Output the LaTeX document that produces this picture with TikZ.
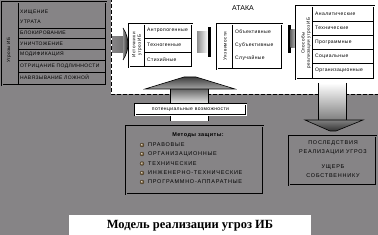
\documentclass[tikz,border=0pt]{standalone}
\usepackage{fontspec}
\setmainfont{Liberation Serif}
\newfontfamily\sfA[LetterSpace=8]{Liberation Sans}
\newfontfamily\sfB[LetterSpace=14]{Liberation Sans}
\newfontfamily\sfC{Liberation Sans}
\definecolor{bg}{RGB}{134,132,134}
\definecolor{bulletc}{RGB}{125,100,60}
\begin{document}
\begin{tikzpicture}[x=1pt,y=-1pt,
  box/.style={rectangle, draw=black, line width=0.6pt, double distance=0.9pt, inner sep=0pt, outer sep=0pt},
  wbox/.style={box, double=white, fill=white},
  gbox/.style={box, double=bg, fill=bg},
  rowline/.style={line width=0.6pt},
  capsL/.style={font=\fontsize{5}{6}\sfA, anchor=west, inner sep=0pt},
  lowL/.style={font=\fontsize{5}{6}\sfA, anchor=west, inner sep=0pt},
  rotL/.style={font=\fontsize{4.6}{5.4}\sfA, rotate=90, align=center, inner sep=0pt},
  capsM/.style={font=\fontsize{5.5}{6.5}\sfB, anchor=west, inner sep=0pt},
  capsC/.style={font=\fontsize{5.5}{6.5}\sfB, inner sep=0pt},
  edge/.style={draw=black, line width=0.6pt}
]
\useasboundingbox (0,0) rectangle (378,235);
\fill[bg] (0,0) rectangle (378,235);
% white dashed region
\fill[white] (111,-2) rectangle (380,94);
\draw[line width=0.8pt, dash pattern=on 4pt off 2pt] (111,-2) -- (111,94) -- (380,94);

% ---- left box: threats
\node[gbox, minimum width=104pt, minimum height=83pt] (threats) at (54,43.5) {};
\draw[rowline] (18,3) -- (18,84);
\foreach \yy in {28,38,49,60,72} \draw[rowline] (18,\yy) -- (105,\yy);
\node[rotL] (thrlab) at (9,50) {Угрозы ИБ};
\node[capsL] (t1) at (20,12) {ХИЩЕНИЕ};
\node[capsL] (t2) at (20,22) {УТРАТА};
\node[capsL] (t3) at (20,33) {БЛОКИРОВАНИЕ};
\node[capsL] (t4) at (20,43.5) {УНИЧТОЖЕНИЕ};
\node[capsL] (t5) at (20,54.5) {МОДИФИКАЦИЯ};
\node[capsL] (t6) at (20,66) {ОТРИЦАНИЕ ПОДЛИННОСТИ};
\node[capsL] (t7) at (20,77.5) {НАВЯЗЫВАНИЕ ЛОЖНОЙ};

% ---- arrow A
\shade[left color=bg, middle color=white, right color=black!55] (112,37) rectangle (123,53);
\shade[left color=black!45, right color=black!85] (123,28) .. controls (127,34) and (128,40) .. (128,44) .. controls (128,48) and (127,54) .. (123,60) -- cycle;
\draw[line width=0.6pt] (123,28) .. controls (127,34) and (128,40) .. (128,44) .. controls (128,48) and (127,54) .. (123,60);

% ---- box 1: sources
\node[wbox, minimum width=63pt, minimum height=43pt] (sources) at (160.5,45.5) {};
\draw[rowline] (144,25) -- (144,66);
\draw[rowline] (144,38) -- (191,38) (144,52.5) -- (191,52.5);
\node[rotL] (srclab) at (137,45) {Источники\\угроз ИБ};
\node[lowL] (s1) at (147,30.5) {Антропогенные};
\node[lowL] (s2) at (147,45) {Техногенные};
\node[lowL] (s3) at (147,59.5) {Стихийные};

% ---- arrow B
\shade[left color=black!45, right color=white] (197,32) rectangle (208,53);
\fill[black] (208,27) rectangle (210.5,57);

\node[font=\fontsize{7}{8}\sfC, inner sep=0pt] (attack) at (243,8) {АТАКА};

% ---- box 2: vulnerabilities
\node[wbox, minimum width=65pt, minimum height=45pt] (vuln) at (249.5,46.5) {};
\draw[rowline] (232,25) -- (232,68);
\node[rotL] (vlab) at (225,46) {Уязвимости};
\node[lowL] (v1) at (235,32) {Объективные};
\node[lowL] (v2) at (235,45) {Субъективные};
\node[lowL] (v3) at (235,58) {Случайные};

% ---- arrow C
\fill[black] (288,25) rectangle (290.5,53);
\shade[left color=black!60, right color=black!25] (290.5,30) rectangle (296,48);

% ---- box 3: ways of realization
\node[wbox, minimum width=78pt, minimum height=73pt] (ways) at (335,42.5) {};
\draw[rowline] (312,7) -- (312,78);
\foreach \yy in {21,35,49,63} \draw[rowline] (312,\yy) -- (373,\yy);
\node[rotL] (wlab) at (306,43) {Способы\\реализации угроз ИБ};
\node[lowL] (w1) at (315,14) {Аналитические};
\node[lowL] (w2) at (315,28) {Технические};
\node[lowL] (w3) at (315,42) {Программные};
\node[lowL] (w4) at (315,56) {Социальные};
\node[lowL] (w5) at (315,70) {Организационные};

% ---- up arrow (middle)
\shade[top color=black!60, bottom color=white] (170,89) rectangle (208,106);
\fill[white] (170,106) rectangle (208,121);
\draw[edge] (170,89) -- (170,121) (208,89) -- (208,121);
\shade[top color=black!75, bottom color=black!35] (145,89) -- (184,77) -- (196,77) -- (235,89) -- cycle;
\draw[edge] (145,89) -- (184,77) -- (196,77) -- (235,89) -- cycle;

% ---- potential bar
\node[wbox, minimum width=111pt, minimum height=11pt, font=\fontsize{5}{6}\sfA] (potential) at (190.5,109.5) {потенциальные возможности};

% ---- methods box
\node[gbox, minimum width=137pt, minimum height=68pt] (methods) at (194.5,160) {};
\node[font=\fontsize{5.5}{6.5}\sfA\bfseries, inner sep=0pt] (mtitle) at (198,135) {Методы защиты:};
\foreach \yy/\tx/\nm in {145/ПРАВОВЫЕ/m1, 154/ОРГАНИЗАЦИОННЫЕ/m2, 163.5/ТЕХНИЧЕСКИЕ/m3, 173/ИНЖЕНЕРНО-ТЕХНИЧЕСКИЕ/m4, 182/ПРОГРАММНО-АППАРАТНЫЕ/m5} {
  \shade[ball color=bulletc] (142,\yy) circle (2.2pt);
  \node[capsM] (\nm) at (148,\yy) {\tx};
}

% ---- down arrow (right)
\shade[top color=white, bottom color=black!50] (318,83) rectangle (346,120);
\draw[edge] (318,83) -- (318,120) (346,83) -- (346,120);
\shade[top color=black!50, bottom color=black!80] (305,120) -- (363,120) -- (336,131) -- (330,131) -- cycle;
\draw[edge] (305,120) -- (363,120) -- (336,131) -- (330,131) -- cycle;

% ---- consequences box
\node[gbox, minimum width=87pt, minimum height=49pt] (conseq) at (332.5,160.5) {};
\node[capsC] (c1) at (333,143) {ПОСЛЕДСТВИЯ};
\node[capsC] (c2) at (333,152) {РЕАЛИЗАЦИИ УГРОЗ};
\node[capsC] (c3) at (333,167) {УЩЕРБ};
\node[capsC] (c4) at (333,176) {СОБСТВЕННИКУ};

% ---- caption
\node[fill=white, minimum width=242pt, minimum height=21pt, inner sep=0pt, font=\fontsize{12.5}{15}\selectfont\bfseries] (caption) at (190,225.5) {Модель реализации угроз ИБ};
\end{tikzpicture}
\end{document}
